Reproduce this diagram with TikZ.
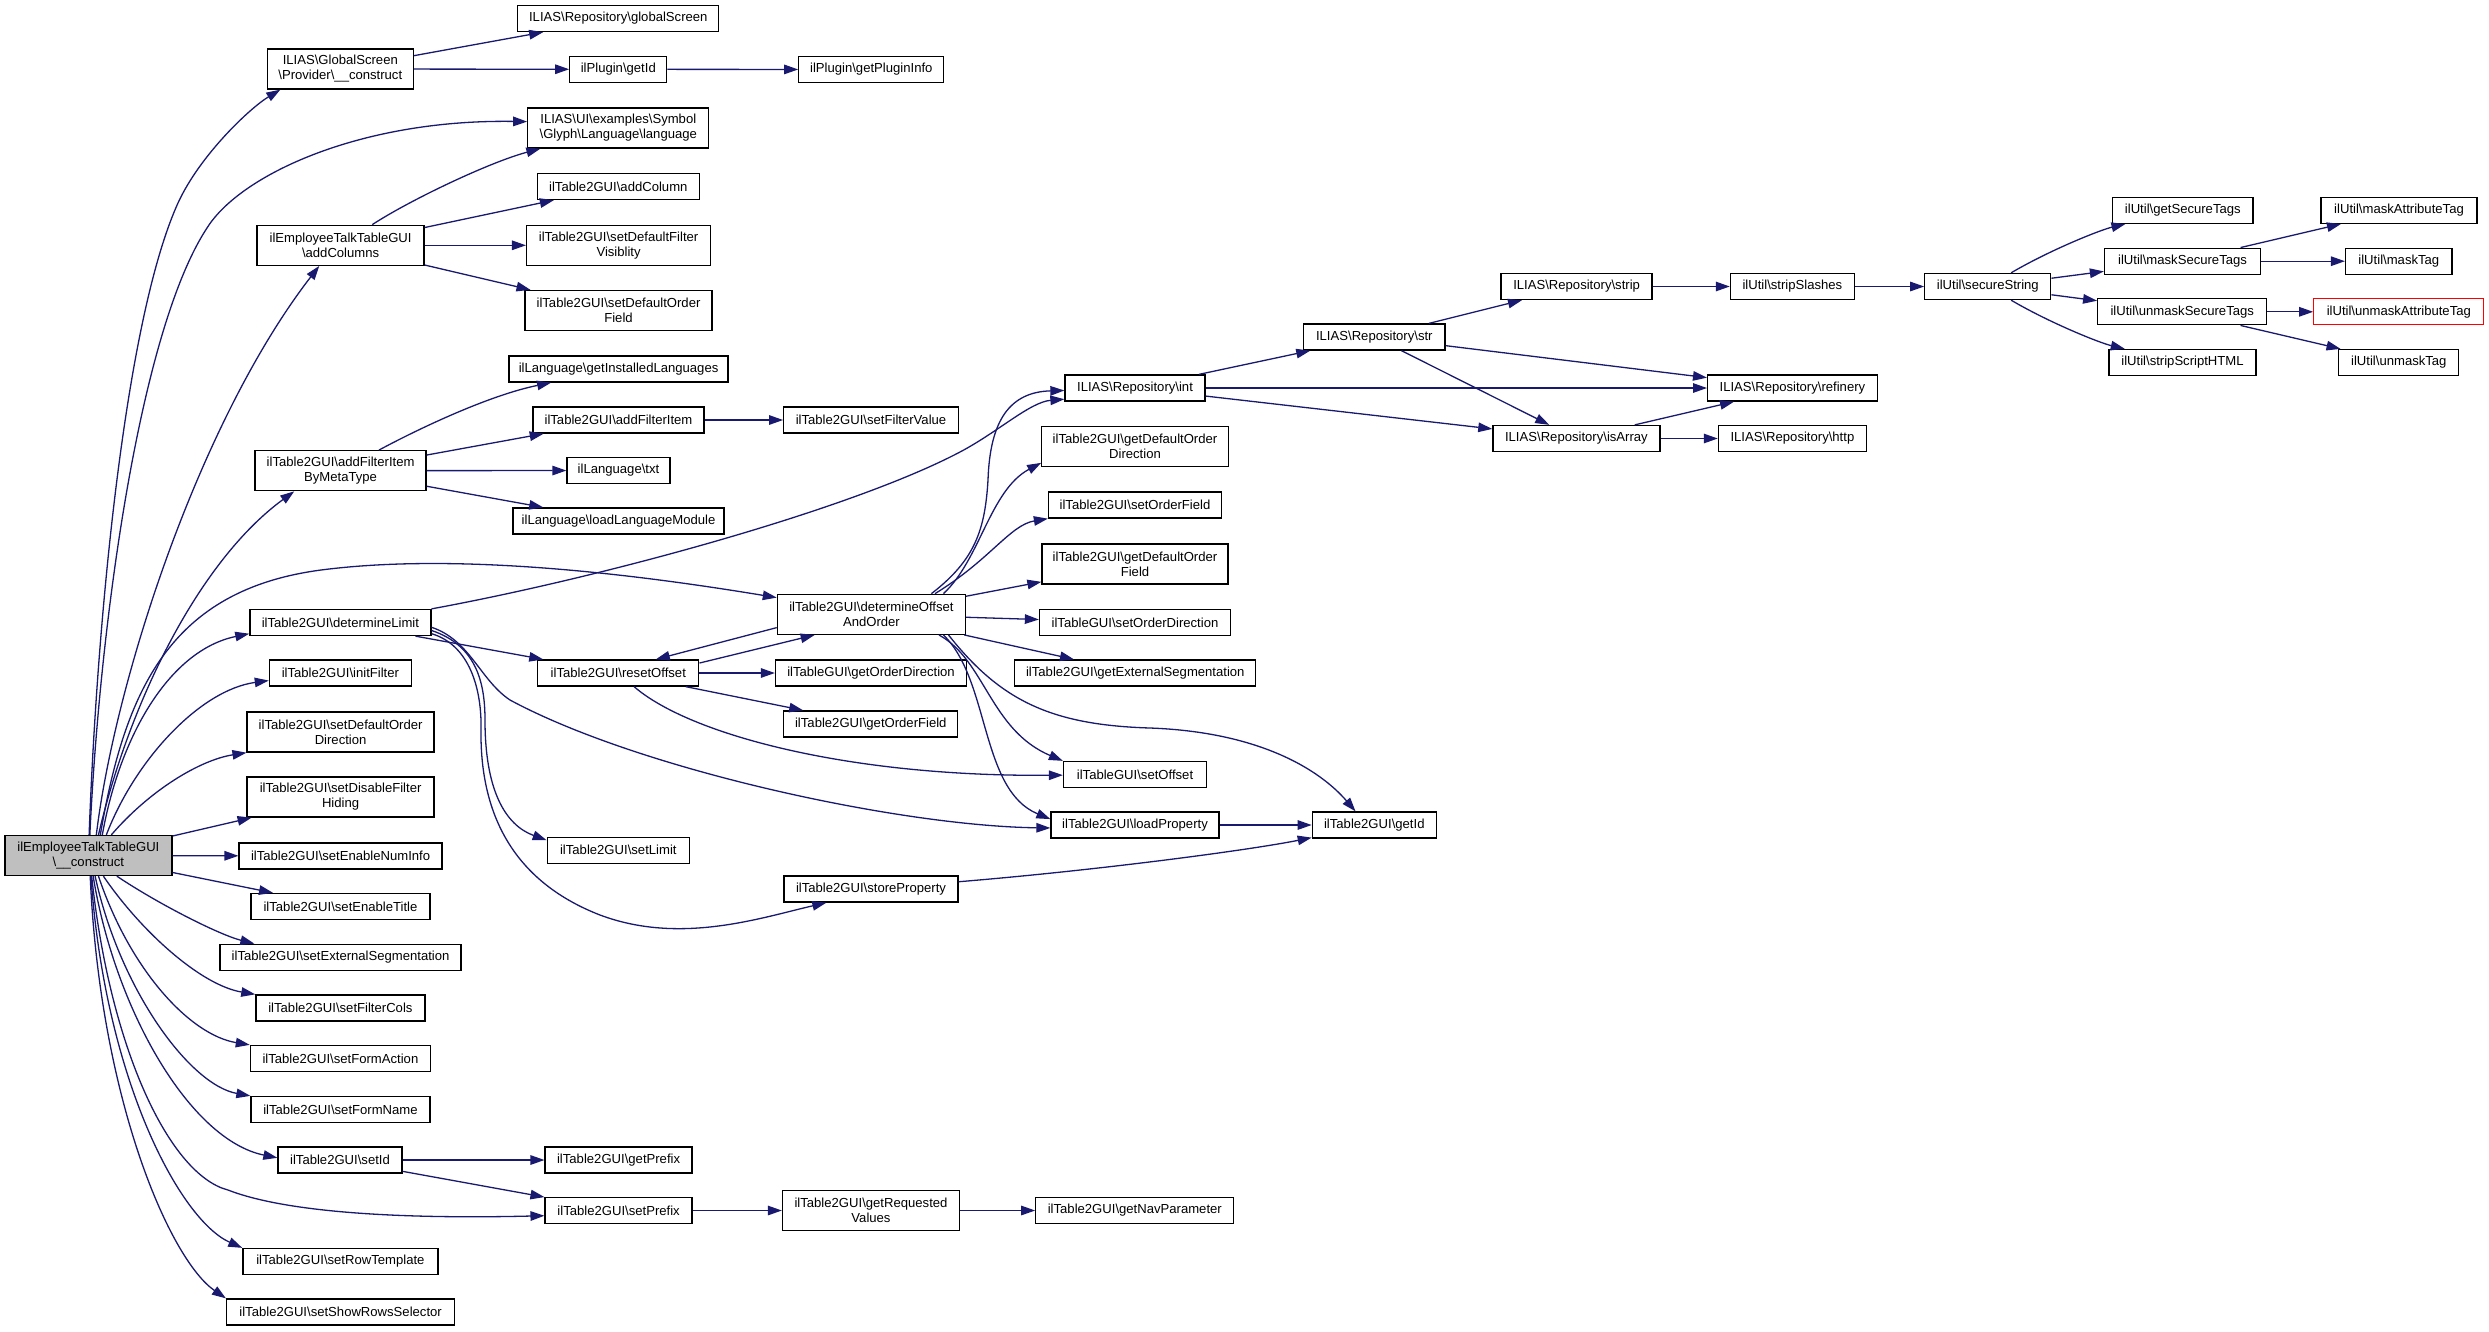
\documentclass[tikz,border=0pt]{standalone}
\usepackage{fontspec}
\setmainfont{Liberation Sans}
\usetikzlibrary{arrows.meta}
\definecolor{edgeblue}{HTML}{191970}
\definecolor{rootgray}{HTML}{BFBFBF}
\newcommand\bsl{\textbackslash}
\newcommand\mknode[7][]{\node[box,#1,minimum width=#5pt,minimum height=#6pt] (#2) at (#3,#4) {#7};}
\begin{document}
\begin{tikzpicture}[x=1pt,y=-1pt,
  box/.style={draw=black, line width=1.3pt, inner sep=0pt, align=center, font=\fontsize{13.1}{15}\selectfont},
  edge/.style={draw=edgeblue, line width=1.3pt, -{Triangle[length=14pt,width=9.5pt]}}]
\fill[white] (0,0) rectangle (2489,1331);
\useasboundingbox (0,0) rectangle (2489,1331);

\mknode[fill=rootgray]{root}{88.4}{855.5}{167}{40}{ilEmployeeTalkTableGUI\\\bsl\_\_construct}
\mknode{prov}{340.3}{69}{146}{40}{ILIAS\bsl GlobalScreen\\\bsl Provider\bsl\_\_construct}
\mknode{gscr}{618.3}{18.5}{201}{26}{ILIAS\bsl Repository\bsl globalScreen}
\mknode{pgetid}{618.3}{69.3}{97}{26}{ilPlugin\bsl getId}
\mknode{pinfo}{871.3}{69.5}{145}{26}{ilPlugin\bsl getPluginInfo}
\mknode{lang}{618.3}{128}{181}{40}{ILIAS\bsl UI\bsl examples\bsl Symbol\\\bsl Glyph\bsl Language\bsl language}
\mknode{addcols}{340.6}{245.3}{167}{40}{ilEmployeeTalkTableGUI\\\bsl addColumns}
\mknode{addcol}{618.3}{186.5}{162}{26}{ilTable2GUI\bsl addColumn}
\mknode{sdfv}{618.6}{245.3}{184}{40}{ilTable2GUI\bsl setDefaultFilter\\Visiblity}
\mknode{sdof}{618.5}{310.5}{187}{40}{ilTable2GUI\bsl setDefaultOrder\\Field}
\mknode{gil}{618.6}{369}{219}{26}{ilLanguage\bsl getInstalledLanguages}
\mknode{afi}{618.5}{420}{171}{26}{ilTable2GUI\bsl addFilterItem}
\mknode{sfv}{871}{420}{174.5}{26}{ilTable2GUI\bsl setFilterValue}
\mknode{afimt}{340.6}{470.7}{171}{40}{ilTable2GUI\bsl addFilterItem\\ByMetaType}
\mknode{txt}{618.5}{470.5}{103}{26}{ilLanguage\bsl txt}
\mknode{llm}{618.6}{521}{211}{26}{ilLanguage\bsl loadLanguageModule}
\mknode{dlim}{340.4}{622.5}{181}{26}{ilTable2GUI\bsl determineLimit}
\mknode{init}{340.4}{673}{142}{26}{ilTable2GUI\bsl initFilter}
\mknode{sdod}{340.6}{732}{187}{40}{ilTable2GUI\bsl setDefaultOrder\\Direction}
\mknode{sdfh}{340.6}{797}{187}{40}{ilTable2GUI\bsl setDisableFilter\\Hiding}
\mknode{seni}{340.6}{856}{203}{26}{ilTable2GUI\bsl setEnableNumInfo}
\mknode{setit}{340.5}{906.5}{179}{26}{ilTable2GUI\bsl setEnableTitle}
\mknode{sext}{340.6}{957.3}{241}{26}{ilTable2GUI\bsl setExternalSegmentation}
\mknode{sfc}{340.4}{1008}{169}{26}{ilTable2GUI\bsl setFilterCols}
\mknode{sfa}{340.4}{1058.5}{180}{26}{ilTable2GUI\bsl setFormAction}
\mknode{sfn}{340.5}{1109.5}{179}{26}{ilTable2GUI\bsl setFormName}
\mknode{sid}{340}{1160}{124}{26}{ilTable2GUI\bsl setId}
\mknode{srt}{340.4}{1261.5}{195}{26}{ilTable2GUI\bsl setRowTemplate}
\mknode{ssrs}{340.6}{1312}{228}{26}{ilTable2GUI\bsl setShowRowsSelector}
\mknode{gpre}{618.6}{1160}{147}{26}{ilTable2GUI\bsl getPrefix}
\mknode{spre}{618.6}{1210.5}{147}{26}{ilTable2GUI\bsl setPrefix}
\mknode{grv}{871}{1210.5}{177}{40}{ilTable2GUI\bsl getRequested\\Values}
\mknode{gnp}{1134.8}{1210.5}{198}{26}{ilTable2GUI\bsl getNavParameter}
\mknode{slim}{618.3}{850.3}{142}{26}{ilTable2GUI\bsl setLimit}
\mknode{roff}{618.3}{673}{161}{26}{ilTable2GUI\bsl resetOffset}
\mknode{doao}{871.4}{614.3}{188}{40}{ilTable2GUI\bsl determineOffset\\AndOrder}
\mknode{god}{871}{673}{191}{26}{ilTableGUI\bsl getOrderDirection}
\mknode{gof}{870.8}{724}{174}{26}{ilTable2GUI\bsl getOrderField}
\mknode{stp}{871}{889}{174}{26}{ilTable2GUI\bsl storeProperty}
\mknode{rint}{1135}{388}{140}{26}{ILIAS\bsl Repository\bsl int}
\mknode{gdod}{1135}{446.3}{186.4}{40}{ilTable2GUI\bsl getDefaultOrder\\Direction}
\mknode{sof}{1135}{505}{173}{26}{ilTable2GUI\bsl setOrderField}
\mknode{gdof}{1135}{564}{186}{40}{ilTable2GUI\bsl getDefaultOrder\\Field}
\mknode{sod}{1135}{622.5}{191}{26}{ilTableGUI\bsl setOrderDirection}
\mknode{ges}{1135.3}{673}{241}{26}{ilTable2GUI\bsl getExternalSegmentation}
\mknode{soff}{1135}{774.5}{143}{26}{ilTableGUI\bsl setOffset}
\mknode{lprop}{1135}{825}{168}{26}{ilTable2GUI\bsl loadProperty}
\mknode{tgetid}{1374.3}{825}{124}{26}{ilTable2GUI\bsl getId}
\mknode{rstr}{1374.3}{337}{141.5}{26}{ILIAS\bsl Repository\bsl str}
\mknode{rstrip}{1576.6}{286.5}{151}{26}{ILIAS\bsl Repository\bsl strip}
\mknode{risarr}{1576.4}{438.5}{167}{26}{ILIAS\bsl Repository\bsl isArray}
\mknode{rref}{1792.4}{388}{169.5}{26}{ILIAS\bsl Repository\bsl refinery}
\mknode{rhttp}{1792.4}{438.5}{148}{26}{ILIAS\bsl Repository\bsl http}
\mknode{ssl}{1792.4}{286.5}{124}{26}{ilUtil\bsl stripSlashes}
\mknode{sstr}{1987.8}{286.5}{126}{26}{ilUtil\bsl secureString}
\mknode{gst}{2182.8}{210.3}{140.5}{26}{ilUtil\bsl getSecureTags}
\mknode{mst}{2182.5}{261.2}{156}{26}{ilUtil\bsl maskSecureTags}
\mknode{umst}{2182.2}{311.8}{169}{26}{ilUtil\bsl unmaskSecureTags}
\mknode{ssh}{2182.5}{362.5}{147}{26}{ilUtil\bsl stripScriptHTML}
\mknode{mat}{2399}{210.3}{156}{26}{ilUtil\bsl maskAttributeTag}
\mknode{mtag}{2398.8}{261.2}{106.5}{26}{ilUtil\bsl maskTag}
\mknode[draw=red]{umat}{2398.8}{311.8}{170}{26}{ilUtil\bsl unmaskAttributeTag}
\mknode{umtag}{2398.8}{362.5}{120}{26}{ilUtil\bsl unmaskTag}

% root fan-out (top)
\draw[edge] (root.88) .. controls (97,620) and (125,320) .. (178,203) .. controls (200,155) and (250,108) .. (prov.199);
\draw[edge] (root.86) .. controls (100,620) and (140,330) .. (207,228) .. controls (240,175) and (360,119) .. (lang.176);
\draw[edge] (root.69) .. controls (115,680) and (200,420) .. (addcols.224);
\draw[edge] (root.64) .. controls (130,700) and (200,560) .. (afimt.204);
\draw[edge] (root.60) .. controls (125,690) and (170,590) .. (321,570) .. controls (460,552) and (640,575) .. (doao.170);
\draw[edge] (root.56) .. controls (120,735) and (170,650) .. (dlim.187);
\draw[edge] (root.49) .. controls (135,760) and (200,690) .. (init.186);
\draw[edge] (root.42) .. controls (150,790) and (200,760) .. (sdod.south west);
\draw[edge] (root) -- (sdfh);
\draw[edge] (root) -- (seni);
\draw[edge] (root) -- (setit);
% root fan-out (bottom)
\draw[edge] (root.-36) .. controls (160,905) and (220,935) .. (sext.171);
\draw[edge] (root.-54) .. controls (140,930) and (200,985) .. (sfc.north west);
\draw[edge] (root.-64) .. controls (130,970) and (190,1035) .. (sfa.north west);
\draw[edge] (root.-72) .. controls (120,990) and (190,1085) .. (sfn.north west);
\draw[edge] (root.-77) .. controls (115,1010) and (190,1140) .. (sid.178);
\draw[edge] (root.-81) .. controls (110,1050) and (170,1175) .. (228,1190) .. controls (300,1218) and (450,1218) .. (spre.184);
\draw[edge] (root.-83) .. controls (105,1080) and (180,1220) .. (srt.north west);
\draw[edge] (root.-85) .. controls (100,1100) and (170,1260) .. (ssrs.north west);

% second level
\draw[edge] (prov) -- (gscr);
\draw[edge] (prov) -- (pgetid);
\draw[edge] (pgetid) -- (pinfo);
\draw[edge] (addcols) .. controls (410,200) and (490,162) .. (lang);
\draw[edge] (addcols) -- (addcol);
\draw[edge] (addcols) -- (sdfv);
\draw[edge] (addcols) -- (sdof);
\draw[edge] (afimt) .. controls (420,428) and (490,395) .. (gil);
\draw[edge] (afimt) -- (afi);
\draw[edge] (afimt) -- (txt);
\draw[edge] (afimt) -- (llm);
\draw[edge] (afi) -- (sfv);

% determineLimit
\draw[edge] (dlim.north east) .. controls (600,578) and (850,510) .. (960,452) .. controls (998,432) and (1030,402) .. (rint.189);
\draw[edge] (dlim) -- (roff);
\draw[edge] (dlim.-3) .. controls (470,640) and (480,680) .. (510,700) .. controls (640,770) and (900,826) .. (lprop.182);
\draw[edge] (dlim.-5) .. controls (475,645) and (485,680) .. (485,720) .. controls (485,790) and (505,825) .. (slim.172);
\draw[edge] (dlim.-7) .. controls (470,645) and (482,690) .. (481,730) .. controls (480,810) and (510,880) .. (600,915) .. controls (680,945) and (760,918) .. (stp.197);

% resetOffset / determineOffsetAndOrder
\draw[edge] (roff.7) -- (doao.200);
\draw[edge] (doao.188) -- (roff.20);
\draw[edge] (roff) -- (god);
\draw[edge] (roff) -- (gof);
\draw[edge] (roff) .. controls (690,735) and (850,777) .. (soff);
\draw[edge] (doao.19) .. controls (975,560) and (985,530) .. (988,480) .. controls (990,420) and (1010,392) .. (rint.182);
\draw[edge] (doao.16) .. controls (980,560) and (990,490) .. (gdod.190);
\draw[edge] (doao.18) .. controls (990,560) and (1010,525) .. (sof.south west);
\draw[edge] (doao) -- (gdof);
\draw[edge] (doao) -- (sod);
\draw[edge] (doao) -- (ges);
\draw[edge] (doao.-17) .. controls (985,660) and (990,730) .. (soff.north west);
\draw[edge] (doao.-16) .. controls (990,680) and (980,790) .. (lprop.176);
\draw[edge] (doao.-15) .. controls (1000,700) and (1050,725) .. (1150,728) .. controls (1260,732) and (1320,770) .. (tgetid.144);
\draw[edge] (lprop) -- (tgetid);
\draw[edge] (stp) .. controls (1100,870) and (1250,850) .. (tgetid);

% repository
\draw[edge] (rint) -- (rstr);
\draw[edge] (rint) -- (rref);
\draw[edge] (rint) -- (risarr);
\draw[edge] (rstr) -- (rstrip);
\draw[edge] (rstr) -- (rref);
\draw[edge] (rstr) -- (risarr);
\draw[edge] (risarr) -- (rref);
\draw[edge] (risarr) -- (rhttp);
\draw[edge] (rstrip) -- (ssl);
\draw[edge] (ssl) -- (sstr);
\draw[edge] (sstr) .. controls (2050,250) and (2100,230) .. (gst);
\draw[edge] (sstr) -- (mst);
\draw[edge] (sstr) -- (umst);
\draw[edge] (sstr) .. controls (2050,323) and (2100,343) .. (ssh);
\draw[edge] (mst) -- (mat);
\draw[edge] (mst) -- (mtag);
\draw[edge] (umst) -- (umat);
\draw[edge] (umst) -- (umtag);

% setId / setPrefix
\draw[edge] (sid) -- (gpre);
\draw[edge] (sid) -- (spre);
\draw[edge] (spre) -- (grv);
\draw[edge] (grv) -- (gnp);
\end{tikzpicture}
\end{document}
